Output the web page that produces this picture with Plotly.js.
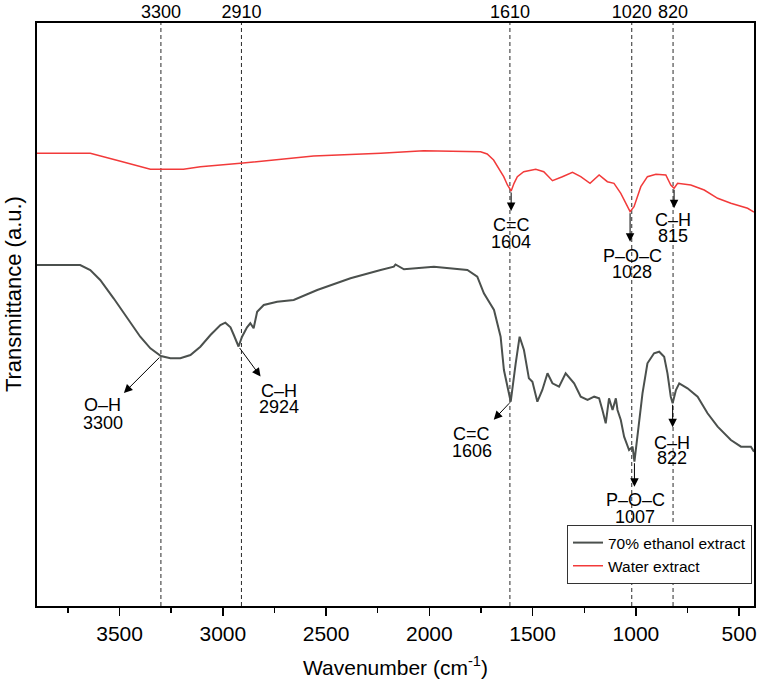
<!DOCTYPE html>
<html>
<head>
<meta charset="utf-8">
<script src="https://cdn.plot.ly/plotly-3.0.1.min.js"></script>
<style>html,body{margin:0;padding:0;background:#fff;}#chart{width:762px;height:683px;}</style>
</head>
<body>
<div id="chart"></div>
<script>
// ---- data (wavenumber in cm-1, transmittance in arbitrary units) ----
const waterWn = [3900,3642,3500,3351,3191,3109,2915,2561,2236,2028,1752,1720,1689,1640,1622,1604,1590,1574,1543,1485,1446,1404,1356,1307,1267,1222,1178,1138,1106,1073,1028,1009,976,944,903,855,831,815,798,734,669,604,540,459,428];
const waterT = [452.7,452.7,445,436.7,436.7,439.3,442.7,450,452.7,455.3,454.3,452,446,429.3,421,415,422.7,429.3,434.3,436.7,434.3,425.3,429.3,433.7,429.3,422.7,431,424.3,422.7,412.7,394.3,399.3,419.3,429.3,431.7,431,421,417.7,422.7,421,416,407.7,402.7,397.7,394];

const ethWn = [3900,3691,3642,3594,3529,3464,3400,3351,3300,3254,3206,3157,3109,3060,3012,2988,2963,2947,2924,2907,2883,2867,2851,2834,2802,2737,2657,2543,2382,2236,2172,2164,2123,1978,1816,1768,1736,1687,1655,1639,1606,1582,1563,1542,1518,1501,1477,1453,1428,1404,1372,1340,1299,1267,1234,1202,1178,1162,1146,1130,1113,1097,1089,1073,1057,1033,1016,1007,992,968,944,912,887,863,847,831,822,806,790,750,701,653,604,540,491,443,428];
const ethT = [341,341,336,326,307.7,287.7,269.3,257.7,250,247.7,247.7,251,259.3,271,281,283.3,278.7,271,259.5,269.3,278.7,282.7,277.7,294.3,301,304.3,306,316,327.7,336,339.3,341.5,336.7,339.3,336,329.3,312.7,296,269.3,236,204.3,242.7,269.3,256,227.7,224.3,204.3,216,232.7,222.7,219.3,232.7,222.7,209.3,206,209.3,207.7,196,182.7,207.7,196,207.7,196,186,169.3,156,159.3,144.3,169.3,212.7,242.7,252.7,254.3,249.3,232.7,209.3,202.7,216,222.7,217.7,209.3,192.7,179.3,166,159.3,159.3,154.3];

const seriesNames = ["70% ethanol extract", "Water extract"];
const peakTicks = [3300, 2910, 1610, 1020, 820];

const waterBandWn = [1604, 1028, 815];
const waterBandName = ["C=C", "P\u2013O\u2013C", "C\u2013H"];
const ethBandWn = [3300, 2924, 1606, 1007, 822];
const ethBandName = ["O\u2013H", "C\u2013H", "C=C", "P\u2013O\u2013C", "C\u2013H"];

// ---- label placement (pixels relative to band point) ----
// [arrow dx, arrow dy, text dx, line1 dy, line2 dy]
const waterBandPos = [[0,20,0,34,51],[0,30,2,44,60],[0,20,-1,32,48]];
const ethBandPos = [[-37,37,-58,49,67],[22,30,40,44,60],[-17,18,-39,32,49],[0,25,1,38,55],[0,24,-1,40,55]];

const FONT = "Liberation Sans, Arial, Helvetica, sans-serif";

const traces = [
  {x: ethWn, y: ethT, name: seriesNames[0], type: "scatter", mode: "lines",
   line: {color: "#4b504d", width: 2}},
  {x: waterWn, y: waterT, name: seriesNames[1], type: "scatter", mode: "lines",
   line: {color: "#f23a3a", width: 1.5}},
  // carrier for the top axis (band positions), draws nothing
  {x: peakTicks, y: peakTicks.map(() => null), xaxis: "x2", yaxis: "y", type: "scatter",
   mode: "none", showlegend: false, hoverinfo: "skip"}
];

const annotations = [];
function addBands(wns, names, pos, xs, ys) {
  wns.forEach((wn, i) => {
    const idx = xs.indexOf(wn);
    const yv = ys[idx];
    const p = pos[i];
    annotations.push({x: wn, y: yv, xref: "x", yref: "y", text: "", showarrow: true,
      xshift: p[0], yshift: -p[1], ax: -p[0], ay: -p[1], axref: "pixel", ayref: "pixel",
      arrowhead: 2, arrowsize: 1.7, arrowwidth: 1, arrowcolor: "#000", standoff: 0, startstandoff: 0});
    annotations.push({x: wn, y: yv, xref: "x", yref: "y", text: names[i], showarrow: false,
      xshift: p[2], yshift: -p[3], xanchor: "center", yanchor: "middle",
      font: {family: FONT, size: 18, color: "#000"}});
    annotations.push({x: wn, y: yv, xref: "x", yref: "y", text: String(wn), showarrow: false,
      xshift: p[2], yshift: -p[4], xanchor: "center", yanchor: "middle",
      font: {family: FONT, size: 18, color: "#000"}});
  });
}
addBands(waterBandWn, waterBandName, waterBandPos, waterWn, waterT);
addBands(ethBandWn, ethBandName, ethBandPos, ethWn, ethT);

annotations.push({xref: "paper", yref: "paper", x: -0.0335, y: 0.535, text: "Transmittance (a.u.)",
  textangle: -90, showarrow: false, xanchor: "center", yanchor: "middle",
  font: {family: FONT, size: 22, color: "#000"}});

const shapes = peakTicks.map(v => ({type: "line", xref: "x", yref: "paper", x0: v, x1: v, y0: 0, y1: 1,
  line: {color: "#2a2a2a", width: 1, dash: "4px,3px"}, layer: "below"}));

const layout = {
  width: 762, height: 683,
  margin: {l: 37, r: 8, t: 23, b: 77, pad: 0},
  paper_bgcolor: "#fff", plot_bgcolor: "#fff",
  font: {family: FONT, color: "#000"},
  showlegend: true,
  xaxis: {
    range: [3900, 428], showline: true, linewidth: 2, linecolor: "#000", mirror: true,
    ticks: "outside", tick0: 500, dtick: 500, ticklen: 8, tickwidth: 1.5, tickcolor: "#000",
    minor: {dtick: 250, tick0: 250, ticks: "outside", ticklen: 5, tickwidth: 1.5, tickcolor: "#000", showgrid: false},
    tickfont: {family: FONT, size: 21, color: "#000"},
    showgrid: false, zeroline: false,
    title: {text: "Wavenumber (cm<sup>-1</sup>)", font: {family: FONT, size: 21, color: "#000"}, standoff: 16}
  },
  xaxis2: {
    overlaying: "x", side: "top", range: [3900, 428], anchor: "y",
    tickmode: "array", tickvals: peakTicks, ticktext: peakTicks.map(String),
    ticks: "", showline: false, showgrid: false, zeroline: false,
    tickfont: {family: FONT, size: 18, color: "#000"}
  },
  yaxis: {
    range: [0, 583], showline: true, linewidth: 2, linecolor: "#000", mirror: true,
    ticks: "", showticklabels: false, showgrid: false, zeroline: false
  },
  legend: {
    x: 0.9972, xanchor: "right", y: 0.0377, yanchor: "bottom",
    bordercolor: "#333", borderwidth: 1, bgcolor: "#fff",
    font: {family: FONT, size: 15.5, color: "#000"}, tracegroupgap: 0
  },
  annotations: annotations,
  shapes: shapes
};

Plotly.newPlot("chart", traces, layout, {displayModeBar: false, staticPlot: true});
</script>
</body>
</html>
